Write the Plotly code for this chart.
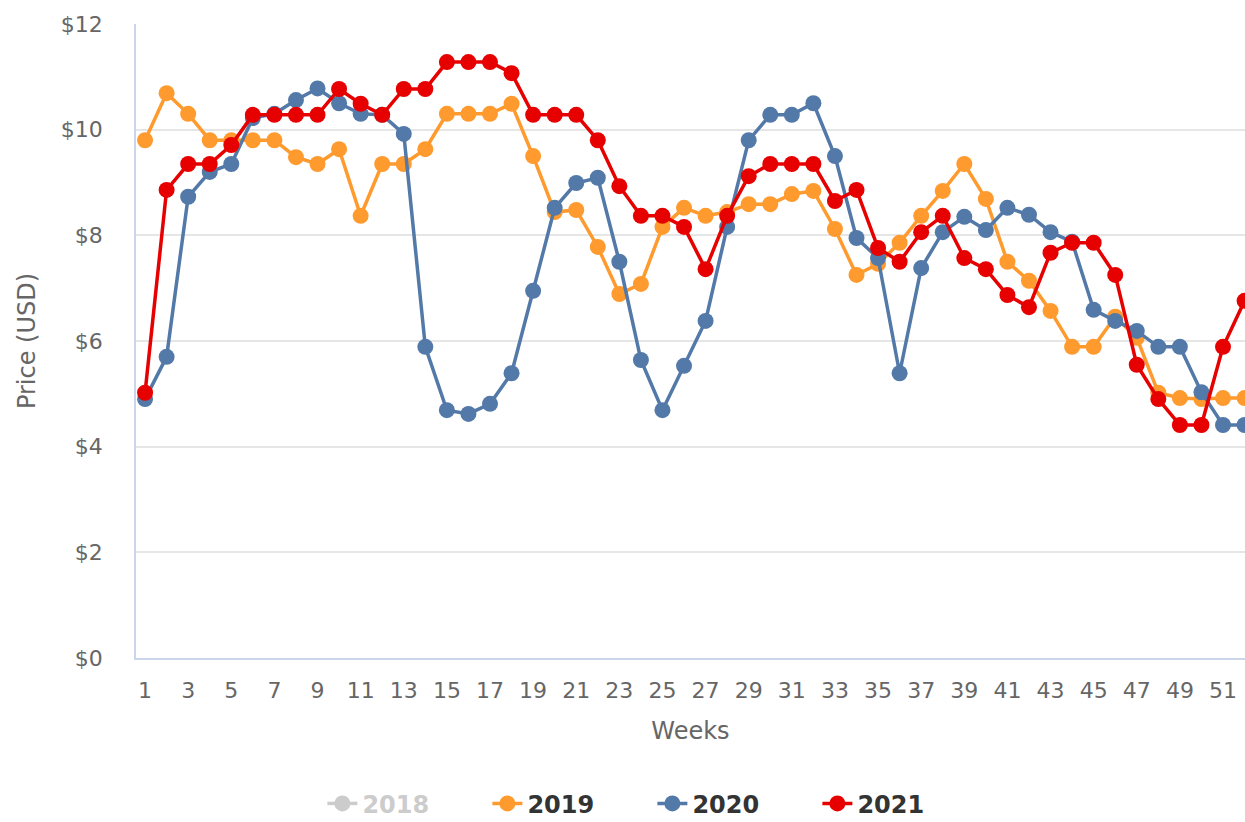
import plotly.graph_objects as go

weeks = list(range(1, 53))
week_ticks = list(range(1, 52, 2))

price_2018 = [None] * 52  # series hidden in the reference (legend only)
price_2019 = [9.80, 10.69, 10.30, 9.80, 9.80, 9.80, 9.80, 9.48, 9.35, 9.63,
              8.37, 9.35, 9.35, 9.63, 10.30, 10.30, 10.30, 10.49, 9.50, 8.44,
              8.48, 7.78, 6.89, 7.08, 8.16, 8.52, 8.37, 8.44, 8.59, 8.59,
              8.78, 8.84, 8.12, 7.25, 7.46, 7.86, 8.37, 8.84, 9.35, 8.69,
              7.50, 7.14, 6.57, 5.89, 5.89, 6.46, 6.06, 5.02, 4.92, 4.90,
              4.92, 4.92]
price_2020 = [4.90, 5.70, 8.73, 9.20, 9.35, 10.22, 10.30, 10.56, 10.78, 10.50,
              10.30, 10.28, 9.92, 5.89, 4.69, 4.62, 4.81, 5.39, 6.95, 8.52,
              8.99, 9.09, 7.50, 5.64, 4.69, 5.53, 6.38, 8.16, 9.80, 10.28,
              10.28, 10.50, 9.50, 7.95, 7.57, 5.39, 7.38, 8.06, 8.35, 8.10,
              8.52, 8.39, 8.06, 7.88, 6.59, 6.38, 6.19, 5.89, 5.89, 5.03,
              4.41, 4.41]
price_2021 = [5.02, 8.86, 9.35, 9.35, 9.71, 10.28, 10.28, 10.28, 10.28, 10.77,
              10.49, 10.28, 10.77, 10.77, 11.28, 11.28, 11.28, 11.07, 10.28, 10.28,
              10.28, 9.80, 8.93, 8.37, 8.37, 8.16, 7.36, 8.37, 9.12, 9.35,
              9.35, 9.35, 8.65, 8.86, 7.76, 7.50, 8.06, 8.37, 7.57, 7.36,
              6.87, 6.64, 7.67, 7.86, 7.86, 7.25, 5.55, 4.90, 4.41, 4.41,
              5.89, 6.76]

series = [
    ("<span style='color:#999999'>2018</span>", price_2018, "#999999", "legendonly"),
    ("2019", price_2019, "#FF9A2E", True),
    ("2020", price_2020, "#5279A8", True),
    ("2021", price_2021, "#E60000", True),
]

fig = go.Figure()
for name, vals, color, vis in series:
    fig.add_trace(go.Scatter(
        x=weeks[:len(vals)], y=vals, name=name, mode="lines+markers",
        visible=vis,
        line=dict(color=color, width=3.5),
        marker=dict(color=color, size=16, line=dict(width=0)),
    ))

font_family = "DejaVu Sans"
fig.update_layout(
    width=1245, height=822,
    margin=dict(l=136, r=0, t=24, b=164, autoexpand=False),
    paper_bgcolor="white", plot_bgcolor="white",
    font=dict(family=font_family, color="#666666", size=20),
    showlegend=True,
    legend=dict(
        orientation="h", xref="container", x=0.524, xanchor="center",
        yref="paper", y=-0.23, yanchor="middle",
        font=dict(family=font_family, size=24, color="#333333", weight="bold"),
        itemwidth=30, entrywidth=120, entrywidthmode="pixels",
    ),
    xaxis=dict(
        range=[0.58, 52.02], tickmode="array", tickvals=week_ticks,
        ticktext=[str(w) for w in week_ticks],
        showgrid=False, showline=True, linecolor="#ccd6eb", linewidth=1.5,
        ticks="", ticklabelstandoff=12, zeroline=False,
        tickfont=dict(size=22, color="#666666"),
        title=dict(text="Weeks", font=dict(size=24, color="#666666"), standoff=20),
    ),
    yaxis=dict(
        range=[0, 12], dtick=2, tickprefix="$",
        showgrid=True, gridcolor="#e6e6e6", gridwidth=1.5,
        showline=True, linecolor="#ccd6eb", linewidth=1.5,
        ticks="", ticklabelstandoff=27, zeroline=False,
        tickfont=dict(size=22, color="#666666"),
        title=dict(text="Price (USD)", font=dict(size=24, color="#666666"), standoff=18),
    ),
)

fig.write_html("out.html", config={"displayModeBar": False},
               post_script="document.body.style.margin='0';")
